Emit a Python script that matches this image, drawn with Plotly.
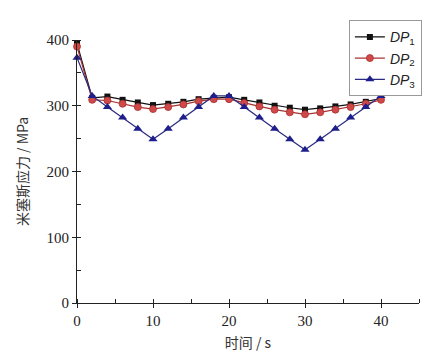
import plotly.graph_objects as go

time_s = [0, 2, 4, 6, 8, 10, 12, 14, 16, 18, 20, 22, 24, 26, 28, 30, 32, 34, 36, 38, 40]
dp1 = [395, 312, 314, 309, 305, 301, 303, 306, 310, 312, 313, 309, 305, 300, 297, 294, 296, 299, 302, 306, 311]
dp2 = [390, 309, 308, 303, 298, 295, 298, 302, 307, 310, 310, 304, 299, 294, 290, 287, 290, 294, 298, 303, 309]
dp3 = [373, 315, 298, 282, 265, 249, 265, 282, 298, 315, 315, 298, 282, 265, 249, 233, 249, 265, 282, 298, 315]
series_names = ["<i>DP</i><sub>1</sub>", "<i>DP</i><sub>2</sub>", "<i>DP</i><sub>3</sub>"]
x_ticks = [0, 10, 20, 30, 40]
y_ticks = [0, 100, 200, 300, 400]

fig = go.Figure()
fig.add_trace(go.Scatter(x=time_s, y=dp1, name=series_names[0], mode="lines+markers",
                         line=dict(color="#111111", width=1.2),
                         marker=dict(symbol="square", size=6, color="#111111"),
                         cliponaxis=False))
fig.add_trace(go.Scatter(x=time_s, y=dp2, name=series_names[1], mode="lines+markers",
                         line=dict(color="#a83232", width=1.2),
                         marker=dict(symbol="circle", size=7, color="#d04848",
                                     line=dict(color="#a83232", width=0.8)),
                         cliponaxis=False))
fig.add_trace(go.Scatter(x=time_s, y=dp3, name=series_names[2], mode="lines+markers",
                         line=dict(color="#2a2a80", width=1.2),
                         marker=dict(symbol="triangle-up", size=8, color="#1e1e8c"),
                         cliponaxis=False))

tick_font = dict(family="Liberation Serif", size=15, color="#222222")
title_font = dict(family="Noto Sans CJK SC", size=14, color="#333333")
fig.update_layout(
    width=431, height=362,
    margin=dict(l=69, r=20, t=32, b=67),
    paper_bgcolor="white", plot_bgcolor="white",
    showlegend=True,
    legend=dict(x=0.795, y=1.075, xanchor="left", yanchor="top",
                bordercolor="#999999", borderwidth=1, bgcolor="white",
                font=dict(family="Liberation Sans", size=14, color="#222222"),
                tracegroupgap=0, itemwidth=30),
    xaxis=dict(range=[0, 45], tickvals=x_ticks, ticks="outside", ticklen=4,
               tickcolor="#222222", showline=True, linecolor="#222222", linewidth=1.2,
               showgrid=False, zeroline=False, tickfont=tick_font,
               minor=dict(dtick=5, ticks="inside", ticklen=4, tickcolor="#222222", showgrid=False),
               title=dict(text="时间 / s", font=title_font, standoff=10)),
    yaxis=dict(range=[0, 400], tickvals=y_ticks, ticks="outside", ticklen=4,
               tickcolor="#222222", showline=True, linecolor="#222222", linewidth=1.2,
               showgrid=False, zeroline=False, tickfont=tick_font,
               minor=dict(dtick=50, ticks="inside", ticklen=4, tickcolor="#222222", showgrid=False),
               title=dict(text="米塞斯应力 / MPa", font=title_font, standoff=14)),
)

fig.write_html("out.html")
